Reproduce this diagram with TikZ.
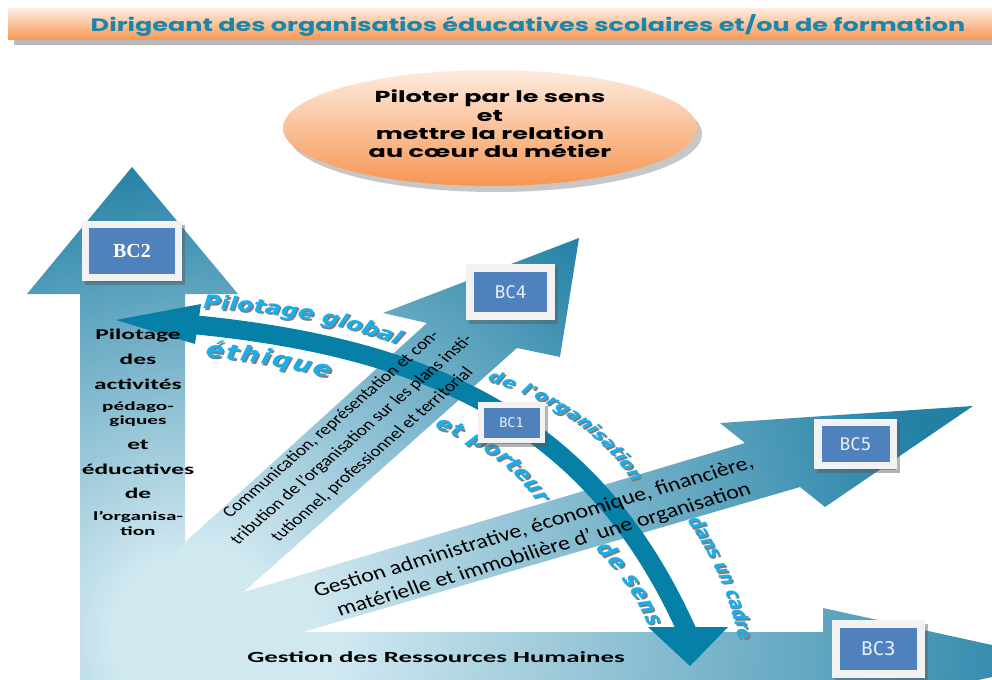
\documentclass[tikz,border=0pt]{standalone}
\usepackage{fontspec}
\setmainfont{Carlito}
\newfontfamily\comicfont{Poppins}
\newfontfamily\curvefont{DejaVu Sans}
\newfontfamily\bcserif{Liberation Serif}
\newfontfamily\bcmono{DejaVu Sans Mono}
\usepackage{tikz}
\usetikzlibrary{shadows}
\usetikzlibrary{decorations.text}

\definecolor{armlight}{RGB}{208,232,240}
\definecolor{armdark}{RGB}{34,128,165}
\definecolor{bandblue}{RGB}{6,128,166}
\definecolor{cyantext}{RGB}{24,176,236}
\definecolor{shadowgrey}{RGB}{125,125,125}
\definecolor{boxblue}{RGB}{79,129,189}
\definecolor{boxframe}{RGB}{242,242,242}
\definecolor{bctext}{RGB}{232,238,246}
\definecolor{titleteal}{RGB}{26,134,172}
\definecolor{peach}{RGB}{253,235,222}
\definecolor{barorange}{RGB}{247,150,82}

% light at the common foot of the arrows, dark towards the tips
\pgfdeclareradialshading{armfade}{\pgfpoint{0bp}{0bp}}{color(0bp)=(armlight); color(2bp)=(armlight); color(12bp)=(armdark); color(50bp)=(armdark)}

\tikzset{
  bcbox/.style={fill=boxblue, draw=boxframe, line width=#1, inner sep=0pt, text=bctext,
    drop shadow={shadow xshift=3bp, shadow yshift=-4bp, fill=black!65, draw=black!65, line width=#1, opacity=.45}},
  armtext/.style={text=black, align=center, inner sep=0pt},
  lefttext/.style={text=black, xscale=1.7, inner sep=0pt},
}

% text along a curve, with its grey shadow
\newcommand\curvelabel[3]{%
  \path[xshift=1.2bp, yshift=-1.6bp, decorate, decoration={text along path, text align={fit to path}, text color=shadowgrey,
    text={|\curvefont\bfseries\itshape\fontsize{#1}{#1}\selectfont|#3}}] #2;
  \path[decorate, decoration={text along path, text align={fit to path}, text color=cyantext,
    text={|\curvefont\bfseries\itshape\fontsize{#1}{#1}\selectfont|#3}}] #2;}

% one big arrow: radius of the fade, outline
\newcommand\bigarm[2]{%
  \begin{scope}
    \clip #2;
    \shade[shading=armfade] (190,635) circle (#1);
  \end{scope}}

\begin{document}
\begin{tikzpicture}[x=1bp, y=-1bp]
  \fill[white] (0,0) rectangle (992,680);
  \useasboundingbox (0,0) rectangle (992,680);

  % title bar
  \fill[black!28] (14,14) rectangle (1000,45);
  \shade[top color=peach, bottom color=barorange] (8,9) rectangle (1000,40);
  \node[font=\comicfont\bfseries\fontsize{18}{18}\selectfont, text=titleteal, xscale=1.42] (title) at (528,25)
    {Dirigeant des organisatios éducatives scolaires et/ou de formation};

  % ellipse
  \fill[black!40, opacity=.55] (495,134) ellipse [x radius=207, y radius=58];
  \shade[top color=peach, bottom color=barorange] (490,128) ellipse [x radius=207, y radius=58];
  \node[font=\comicfont\bfseries\fontsize{16}{18.5}\selectfont, align=center, xscale=1.6] (motto) at (490,124)
    {Piloter par le sens\\et\\mettre la relation\\au cœur du métier};

  % the four big arrows
  \bigarm{1875}{(80,632) -- (823,632) -- (823,608) -- (1065,661) -- (823,714) -- (80,714) -- cycle}
  \bigarm{1000}{(80,700) -- (80,294) -- (27,294) -- (132,167) -- (238,294) -- (185,294) -- (185,700) -- cycle}
  \bigarm{1583}{(180,611) -- (745,443) -- (720,423) -- (973,406) -- (825,507) -- (800,487) -- (200,662) -- cycle}
  \bigarm{1167}{(130,592) -- (427,323) -- (383,313) -- (579,238) -- (560,357) -- (517,348) -- (200,631) -- (130,660) -- cycle}

  % curved band
  \draw[line width=19bp, bandblue] (197,325) .. controls (447,350) and (600,432) .. (690,638);
  \fill[bandblue] (116,320) -- (201,304) -- (195,344) -- cycle;
  \fill[bandblue] (648,627) -- (728,627) -- (690,666) -- cycle;

  % texts on the arrows
  \foreach \ypos/\fsz/\word [count=\k] in {336/15/Pilotage, 359/15/des, 384/15/activités, 407/12.5/pédago-,
      421/12.5/giques, 445/15/et, 469/15/éducatives, 493/15/de, 517/12.5/l’organisa-, 531/12.5/tion}
    \node[lefttext, font=\bfseries\fontsize{\fsz}{\fsz}\selectfont] (side\k) at (138,\ypos) {\word};

  \node[armtext, xscale=1.25, rotate=47.4, font=\fontsize{15.6}{22.4}\selectfont] (commtext) at (352,440)
    {Communication, représentation et con-\\tribution de l’organisation sur les plans insti-\\tutionnel, professionnel et territorial};
  \node[armtext, xscale=1.2, rotate=19.7, font=\fontsize{20}{24.6}\selectfont] (gesttext) at (539,539)
    {Gestion administrative, économique, financière,\\matérielle et immobilière d’ une organisation};
  \node[armtext, anchor=west, xscale=1.74, font=\bfseries\fontsize{15.5}{15.5}\selectfont] (rhtext) at (247,657)
    {Gestion des Ressources Humaines};

  % curved words
  \begin{scope}[transform canvas={xscale=1.25}, x=0.8bp, y=-1bp]
    \curvelabel{19}{(203,309) .. controls (283,312) and (337,323) .. (398,345)}{Pilotage global}
    \curvelabel{21.5}{(205,357) .. controls (248,361) and (288,367) .. (329,378)}{éthique}
    \curvelabel{15.5}{(487,381) .. controls (542,397) and (596,426) .. (633,482)}{de l'organisation}
    \curvelabel{18.5}{(434,428) .. controls (474,441) and (511,463) .. (538,503)}{et porteur}
    \curvelabel{16}{(687,521) .. controls (711,553) and (729,593) .. (739,639)}{dans un cadre}
    \curvelabel{19}{(595,549) .. controls (619,572) and (637,597) .. (649,627)}{de sens}
  \end{scope}

  % boxes
  \node[bcbox=7bp, minimum width=93bp, minimum height=53bp, font=\bcserif\bfseries\fontsize{20}{20}\selectfont, text=white] (bc2) at (132,251) {BC2};
  \node[bcbox=8bp, minimum width=81bp, minimum height=48bp, font=\bcmono\fontsize{17.5}{17.5}\selectfont] (bc4) at (510.5,292) {BC4};
  \node[bcbox=5.5bp, minimum width=61.5bp, minimum height=35.5bp, font=\bcmono\fontsize{13.5}{13.5}\selectfont] (bc1) at (511.5,422.5) {BC1};
  \node[bcbox=7.5bp, minimum width=75.5bp, minimum height=43bp, font=\bcmono\fontsize{17.5}{17.5}\selectfont] (bc5) at (855.5,444) {BC5};
  \node[bcbox=8bp, minimum width=85bp, minimum height=50bp, font=\bcmono\fontsize{19}{19}\selectfont] (bc3) at (878.5,649) {BC3};
\end{tikzpicture}
\end{document}
